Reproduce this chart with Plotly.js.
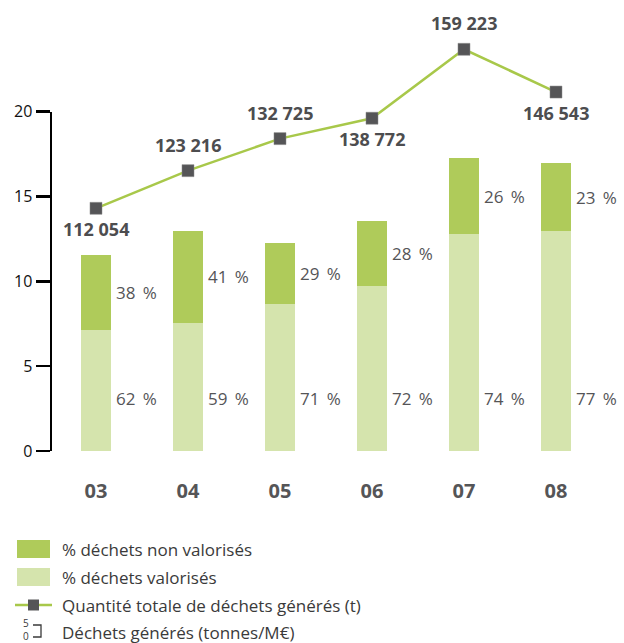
<!DOCTYPE html>
<html>
<head>
<meta charset="utf-8">
<script src="https://cdn.plot.ly/plotly-3.0.1.min.js"></script>
<style>
  body { margin: 0; background: #fff; }
  #chart { width: 624px; height: 643px; }
</style>
</head>
<body>
<div id="chart"></div>
<script>
// years (x categories)
var years = ['03', '04', '05', '06', '07', '08'];

// waste generated, tonnes/M€ (stacked bars)
var valorises = [7.13, 7.56, 8.66, 9.74, 12.77, 12.98];
var nonValorises = [4.42, 5.40, 3.58, 3.81, 4.48, 3.97];

// percentages written next to the bars
var pctValorises = [62, 59, 71, 72, 74, 77];
var pctNonValorises = [38, 41, 29, 28, 26, 23];

// total waste generated (t)
var quantite = [112054, 123216, 132725, 138772, 159223, 146543];
var labelSide = ['below', 'above', 'above', 'below', 'above', 'below'];

var darkGreen = '#afcb5a';
var lightGreen = '#d5e4ad';
var lineGreen = '#a8c84a';
var markerGrey = '#555557';
var textGrey = '#555557';
var font = 'Open Sans, Liberation Sans, sans-serif';

// plot area in pixels, used to place the hand drawn legend
var L = 52, T = 30, W = 552, H = 421;
function px(x) { return (x - L) / W; }
function py(y) { return (T + H - y) / H; }

function fmt(v) {
  return String(v).replace(/\B(?=(\d{3})+(?!\d))/g, ' ');
}
function pct(v) {
  return v + '\u00a0\u2009%';
}

var traces = [
  {
    type: 'bar', name: '% déchets valorisés',
    x: years, y: valorises,
    marker: {color: lightGreen},
    width: 0.33, hoverinfo: 'y'
  },
  {
    type: 'bar', name: '% déchets non valorisés',
    x: years, y: nonValorises,
    marker: {color: darkGreen},
    width: 0.33, hoverinfo: 'y'
  },
  {
    type: 'scatter', mode: 'lines+markers',
    name: 'Quantité totale de déchets générés (t)',
    x: years, y: quantite, yaxis: 'y2',
    line: {color: lineGreen, width: 2.5},
    marker: {symbol: 'square', size: 12, color: markerGrey,
             line: {color: '#8a8a8a', width: 0.5}},
    cliponaxis: false
  }
];

var annotations = [];
years.forEach(function (yr, i) {
  // % next to the dark part (middle of the segment)
  annotations.push({
    x: i, y: valorises[i] + nonValorises[i] / 2, xref: 'x', yref: 'y',
    text: pct(pctNonValorises[i]), showarrow: false,
    xanchor: 'left', yanchor: 'middle', xshift: 18,
    font: {family: font, size: 17, color: textGrey}
  });
  // % next to the light part, all on the same height
  annotations.push({
    x: i, y: 3.09, xref: 'x', yref: 'y',
    text: pct(pctValorises[i]), showarrow: false,
    xanchor: 'left', yanchor: 'middle', xshift: 18,
    font: {family: font, size: 17, color: textGrey}
  });
  // total quantity label
  annotations.push({
    x: i, y: quantite[i], xref: 'x', yref: 'y2',
    text: '<b>' + fmt(quantite[i]) + '</b>', showarrow: false,
    xanchor: 'center', yanchor: 'middle',
    yshift: labelSide[i] === 'above' ? 26 : -21,
    font: {family: font, size: 18, color: '#4d4d4f'}
  });
});

// legend, drawn by hand
var legendText = [
  {y: 549, text: '% déchets non valorisés'},
  {y: 577, text: '% déchets valorisés'},
  {y: 605, text: 'Quantité totale de déchets générés (t)'},
  {y: 632, text: 'Déchets générés (tonnes/M€)'}
];
legendText.forEach(function (d) {
  annotations.push({
    xref: 'paper', yref: 'paper', x: px(60), y: py(d.y),
    xanchor: 'left', yanchor: 'middle', text: d.text, showarrow: false,
    font: {family: font, size: 17, color: '#3a3a3a'}
  });
});
// small "5 / 0" axis sample of the last legend entry
annotations.push({xref: 'paper', yref: 'paper', x: px(26), y: py(630),
  xanchor: 'center', yanchor: 'middle', borderpad: 0,
  text: '5<br>0', showarrow: false, font: {family: font, size: 10, color: '#3a3a3a'}});

var shapes = [
  {type: 'rect', xref: 'paper', yref: 'paper', x0: px(17), x1: px(50),
   y0: py(540), y1: py(558), fillcolor: darkGreen, line: {width: 0}},
  {type: 'rect', xref: 'paper', yref: 'paper', x0: px(17), x1: px(50),
   y0: py(568), y1: py(586), fillcolor: lightGreen, line: {width: 0}},
  {type: 'line', xref: 'paper', yref: 'paper', x0: px(15), x1: px(52),
   y0: py(605), y1: py(605), line: {color: lineGreen, width: 2.5}},
  {type: 'rect', xref: 'paper', yref: 'paper', x0: px(28), x1: px(39),
   y0: py(599.5), y1: py(610.5), fillcolor: markerGrey, line: {width: 0}},
  {type: 'path', xref: 'paper', yref: 'paper',
   path: 'M ' + px(33) + ' ' + py(625) + ' L ' + px(41) + ' ' + py(625) +
         ' L ' + px(41) + ' ' + py(637) + ' L ' + px(33) + ' ' + py(637),
   line: {color: '#3a3a3a', width: 1.3}}
];

var layout = {
  width: 624, height: 643,
  margin: {l: L, r: 624 - L - W, t: T, b: 643 - T - H},
  paper_bgcolor: '#fff', plot_bgcolor: 'rgba(0,0,0,0)',
  barmode: 'stack',
  showlegend: false,
  font: {family: font},
  xaxis: {
    type: 'category', range: [-0.478, 5.522],
    showline: false, showgrid: false, zeroline: false,
    ticks: '', ticklabelstandoff: 26,
    tickfont: {family: font, size: 20, color: textGrey, weight: 'bold'},
    fixedrange: true
  },
  yaxis: {
    domain: [0, 339.3 / H], range: [0, 20],
    tickvals: [0, 5, 10, 15, 20],
    showline: true, linecolor: '#000', linewidth: 2.5,
    ticks: 'outside', ticklen: 14, tickwidth: 2.5, tickcolor: '#000',
    showgrid: false, zeroline: false,
    tickfont: {family: font, size: 16, color: '#111'},
    fixedrange: true
  },
  yaxis2: {
    domain: [0, 1], anchor: 'x', range: [40050, 164950],
    visible: false, fixedrange: true
  },
  annotations: annotations,
  shapes: shapes
};

Plotly.newPlot('chart', traces, layout, {displayModeBar: false, staticPlot: true});
</script>
</body>
</html>
